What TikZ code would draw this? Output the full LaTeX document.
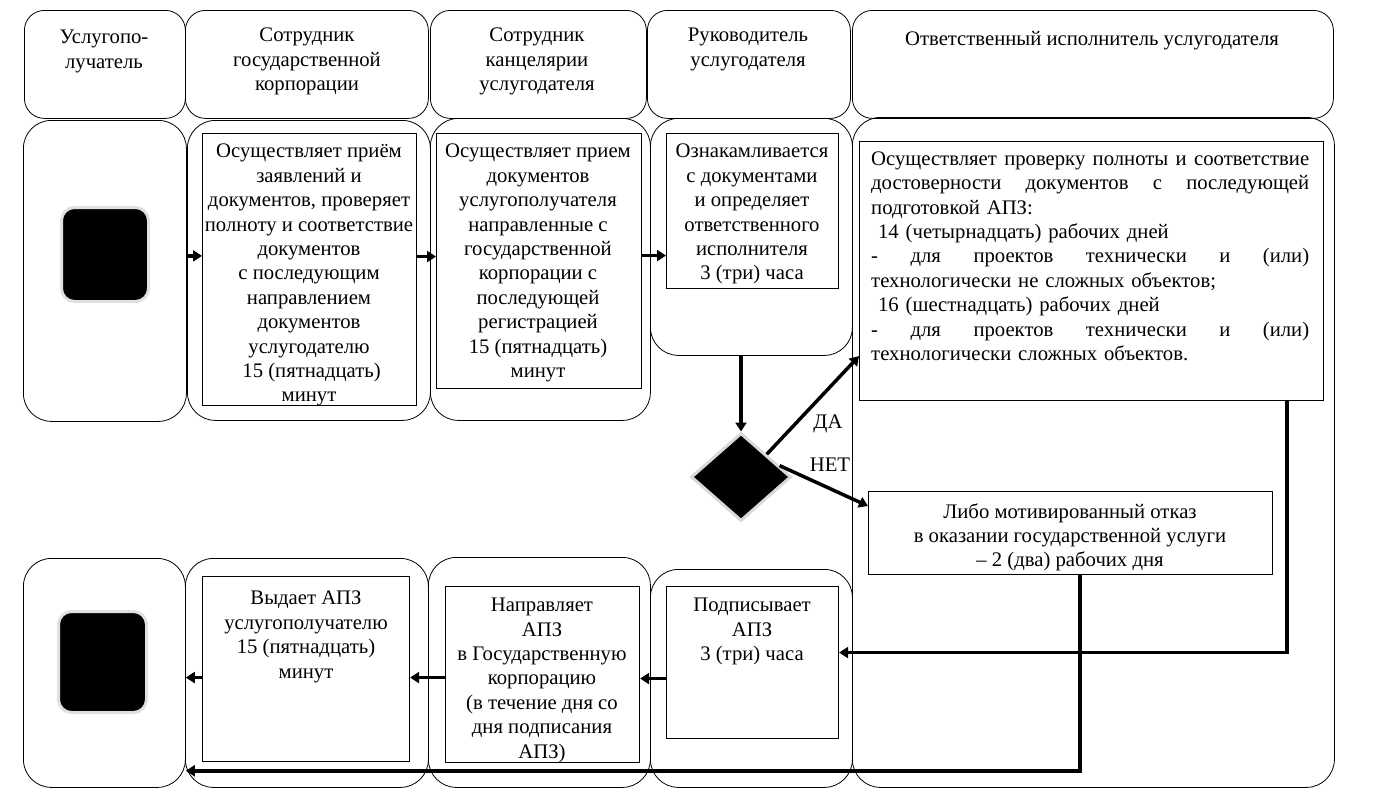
\documentclass[tikz,border=0pt]{standalone}
\usepackage{fontspec}
\setmainfont{Liberation Serif}
\usetikzlibrary{arrows.meta,shapes.geometric,calc}
\newcommand{\jline}[1]{\leavevmode\hbox to 438pt{#1}}
\begin{document}
\begin{tikzpicture}[x=1pt,y=-1pt,
 lane/.style={draw, line width=0.8pt, rounded corners=28pt, anchor=north west, inner sep=0},
 head/.style={draw, line width=0.8pt, rounded corners=20pt, anchor=north west, inner sep=0},
 rbox/.style={draw, line width=1.1pt, anchor=north west, inner sep=0},
 txt/.style={font=\fontsize{20.7}{24.4}\selectfont, align=center, anchor=north, inner sep=0, execute at begin node=\strut},
 arr/.style={line width=3.5pt, -{Triangle[length=9pt,width=11pt]}},
 blk/.style={fill=black, draw=black!12, line width=3pt, rounded corners=13pt, anchor=north west, inner sep=0},
]
\useasboundingbox (0,0) rectangle (1373,798);
% header row
\node[head, minimum width=161pt, minimum height=108pt] (h1) at (24,10) {};
\node[head, minimum width=243pt, minimum height=108pt] (h2) at (185,10) {};
\node[head, minimum width=216pt, minimum height=108pt] (h3) at (430,10) {};
\node[head, minimum width=203pt, minimum height=108pt] (h4) at (647,10) {};
\node[head, minimum width=481pt, minimum height=108pt] (h5) at (852,10) {};
\node[txt] (h1t) at (104,30) {Услугопо-\\лучатель};
\node[txt] (h2t) at (307,28) {Сотрудник\\государственной\\корпорации};
\node[txt] (h3t) at (537,28) {Сотрудник\\канцелярии\\услугодателя};
\node[txt] (h4t) at (748,28) {Руководитель\\услугодателя};
\node[txt] (h5t) at (1092,28) {Ответственный исполнитель услугодателя};
% lanes
\node[lane, minimum width=163pt, minimum height=301pt] (m1) at (23,120) {};
\node[lane, minimum width=243pt, minimum height=300pt] (m2) at (187,120) {};
\node[lane, minimum width=220pt, minimum height=302pt] (m3) at (430,118) {};
\node[lane, minimum width=202pt, minimum height=237pt] (m4) at (650,118) {};
\node[lane, minimum width=482pt, minimum height=670pt] (m5) at (852,117) {};
\node[lane, minimum width=162pt, minimum height=229pt] (b1) at (23,558) {};
\node[lane, minimum width=243pt, minimum height=229pt] (b2) at (185,558) {};
\node[lane, minimum width=222pt, minimum height=230pt] (b3) at (428,557) {};
\node[lane, minimum width=202pt, minimum height=218pt] (b4) at (650,569) {};
% black squares
\node[blk, minimum width=87pt, minimum height=94pt] (sq1) at (60,206) {};
\node[blk, minimum width=88pt, minimum height=101pt] (sq2) at (57,610) {};
% step boxes
\node[rbox, minimum width=214pt, minimum height=272pt] (r2) at (202,133) {};
\node[rbox, minimum width=205pt, minimum height=255pt] (r3) at (436,133) {};
\node[rbox, minimum width=172pt, minimum height=155pt] (r4) at (666,133) {};
\node[rbox, minimum width=464pt, minimum height=259pt] (apz) at (859,141) {};
\node[rbox, minimum width=404pt, minimum height=83pt] (ref) at (868,491) {};
\node[rbox, minimum width=207pt, minimum height=185pt] (s2) at (202,576) {};
\node[rbox, minimum width=194pt, minimum height=176pt] (s3) at (445,586) {};
\node[rbox, minimum width=172pt, minimum height=152pt] (s4) at (666,586) {};
% texts
\node[txt] (r2t) at (309,144) {Осуществляет приём\\заявлений и\\документов, проверяет\\полноту и соответствие\\документов\\ с последующим\\направлением\\документов\\услугодателю\\ \ 15 (пятнадцать)\\минут};
\node[txt] (r3t) at (538,144) {Осуществляет прием\\документов\\услугополучателя\\направленные с\\государственной\\корпорации с\\последующей\\регистрацией\\15 (пятнадцать)\\минут};
\node[txt] (r4t) at (752,144) {Ознакамливается\\с документами\\и определяет\\ответственного\\исполнителя\\3 (три) часа};
\node[txt, align=left, text width=438pt, anchor=north west] (apzt) at (871,148) {\jline{Осуществляет\hfill проверку\hfill полноты\hfill и\hfill соответствие}\\
\jline{достоверности\hfill документов\hfill с\hfill последующей}\\
подготовкой АПЗ:\\
\ 14 (четырнадцать) рабочих дней\\
\jline{-\hfill для\hfill проектов\hfill технически\hfill и\hfill (или)}\\
технологически не сложных объектов;\\
\ 16 (шестнадцать) рабочих дней\\
\jline{-\hfill для\hfill проектов\hfill технически\hfill и\hfill (или)}\\
технологически сложных объектов.};
\node[txt] (reft) at (1070,503) {Либо мотивированный отказ\\в оказании государственной услуги\\– 2 (два) рабочих дня};
\node[txt] (s2t) at (306,591) {Выдает АПЗ\\услугополучателю\\15 (пятнадцать)\\минут};
\node[txt] (s3t) at (542,598) {Направляет\\АПЗ\\в Государственную\\корпорацию\\(в течение дня со\\дня подписания\\АПЗ)};
\node[txt] (s4t) at (752,598) {Подписывает\\АПЗ\\3 (три) часа};
% decision
\node[diamond, fill=black, draw=black!15, line width=3pt, minimum width=100pt, minimum height=88pt, inner sep=0] (dec) at (741,477) {};
\node[txt, anchor=center] (da) at (828,424) {ДА};
\node[txt, anchor=center] (net) at (830,467) {НЕТ};
% connectors
\draw[arr] ([yshift=15pt]m1.east) -- ([yshift=15pt]m1.east -| r2.west);
\draw[arr] ([yshift=13pt]r2.east) -- ([yshift=13pt]r2.east -| r3.west);
\draw[arr] ([yshift=5.5pt]r3.east) -- ([yshift=5.5pt]r3.east -| r4.west);
\draw[arr] (dec.north |- m4.south) -- (dec.north);
\draw[arr] (dec.north east) -- ($(apz.south west)+(0,-45)$);
\draw[arr] ($(dec.north east)!0.5!(dec.east)$) -- ($(ref.north west)+(0,15)$);
\draw[arr] ($(apz.south east)+(-37,0)$) |- ([yshift=10pt]s4.east);
\draw[arr] ($(ref.south west)+(212,0)$) |- ($(b1.south east)+(0,-17)$);
\draw[arr] ([yshift=-16pt]s4.west) -- ([yshift=-16pt]s4.west -| s3.east);
\draw[arr] ([yshift=-3pt]s3.west) -- ([yshift=-3pt]s3.west -| s2.east);
\draw[arr] ([yshift=-8.5pt]s2.west) -- ([yshift=-8.5pt]s2.west -| b1.east);
\end{tikzpicture}
\end{document}
